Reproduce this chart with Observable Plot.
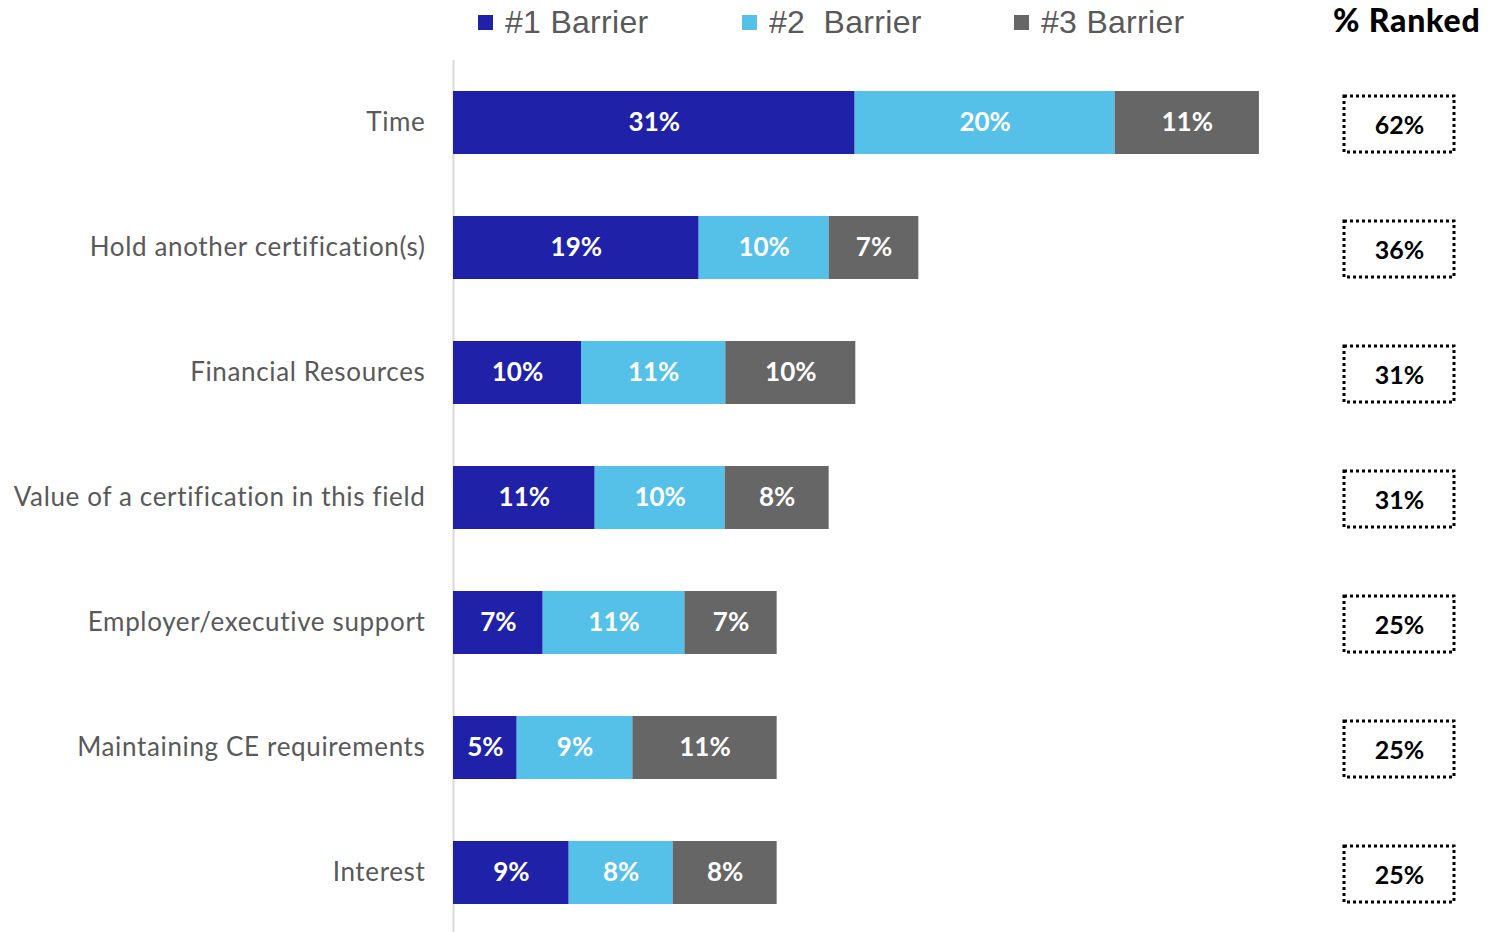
<!DOCTYPE html>
<html>
<head>
<meta charset="utf-8">
<script src="https://cdn.jsdelivr.net/npm/d3@7"></script>
<script src="https://cdn.jsdelivr.net/npm/@observablehq/plot@0.6"></script>
<style>
  body { margin: 0; background: #fff; }
  #wrap { position: relative; width: 1509px; height: 932px; overflow: hidden; }
  #head { position: relative; height: 60px; }
  .leg { position: absolute; top: 4px; display: flex; align-items: center; font-family: "Liberation Sans", sans-serif; font-size: 32px; letter-spacing: 0.3px; color: #595959; white-space: pre; }
  .sw { width: 15px; height: 15px; margin-right: 12px; }
  #rankedHead { position: absolute; left: 1333px; top: 0px; font-family: "Lato", sans-serif; font-weight: 900; font-size: 32px; letter-spacing: 0.8px; color: #000; }
  #row { display: flex; }
  g[aria-label="y-axis tick label"] text { letter-spacing: 0.65px; }
</style>
</head>
<body>
<div id="wrap">
  <div id="head"></div>
  <div id="row"></div>
</div>
<script>
const categories = ["Time", "Hold another certification(s)", "Financial Resources", "Value of a certification in this field", "Employer/executive support", "Maintaining CE requirements", "Interest"];
const series = ["#1 Barrier", "#2  Barrier", "#3 Barrier"];
const colors = ["#1f22a8", "#56c1e8", "#666666"];
const barrier1 = [30.9, 18.9, 9.85, 10.9, 6.9, 4.9, 8.9];
const barrier2 = [20.0, 10.0, 11.1, 10.0, 10.9, 8.9, 8.0];
const barrier3 = [11.1, 6.9, 10.0, 8.0, 7.1, 11.1, 8.0];
const rankedTotal = [62, 36, 31, 31, 25, 25, 25];
const rankedTitle = "% Ranked";

const seriesValues = [barrier1, barrier2, barrier3];
const rows = [];
categories.forEach((c, i) => {
  series.forEach((s, j) => rows.push({cat: c, series: s, value: seriesValues[j][i]}));
});
const ranked = categories.map((c, i) => ({cat: c, value: rankedTotal[i]}));

// header: legend + ranked title
const head = document.getElementById("head");
const legLeft = [478, 742, 1014];
series.forEach((s, j) => {
  const d = document.createElement("div");
  d.className = "leg";
  d.style.left = legLeft[j] + "px";
  d.innerHTML = `<span class="sw" style="background:${colors[j]}"></span><span>${s}</span>`;
  head.appendChild(d);
});
const rh = document.createElement("div");
rh.id = "rankedHead";
rh.textContent = rankedTitle;
head.appendChild(rh);

const yScale = {domain: categories, paddingInner: 0.5, paddingOuter: 0.224, align: 0.515};

const main = Plot.plot({
  width: 1320,
  height: 872,
  marginLeft: 453,
  marginRight: 0,
  marginTop: 0,
  marginBottom: 0,
  style: {fontFamily: "Lato, sans-serif", background: "transparent"},
  x: {domain: [0, 66.7], axis: null},
  y: {...yScale, label: null},
  color: {domain: series, range: colors},
  marks: [
    Plot.ruleX([0], {stroke: "#d9d9d9", strokeWidth: 2}),
    Plot.barX(rows, Plot.stackX({x: "value", y: "cat", fill: "series"})),
    Plot.text(rows, Plot.stackX({x: "value", y: "cat", text: d => Math.round(d.value) + "%", fill: "white", fontWeight: "bold", fontSize: 26})),
    Plot.axisY({tickSize: 0, tickPadding: 28, fontSize: 26, color: "#595959", label: null})
  ]
});

const side = Plot.plot({
  width: 189,
  height: 872,
  marginLeft: 24,
  marginRight: 55,
  marginTop: 0,
  marginBottom: 0,
  style: {fontFamily: "Lato, sans-serif", background: "transparent"},
  x: {domain: ["ranked"], padding: 0, axis: null},
  y: {...yScale, axis: null},
  marks: [
    Plot.cell(ranked, {x: () => "ranked", y: "cat", fill: "none", stroke: "#000", strokeWidth: 3, strokeDasharray: "3 3", insetTop: 5, insetBottom: 2}),
    Plot.text(ranked, {x: () => "ranked", y: "cat", dy: 3, text: d => d.value + "%", fill: "#000", fontWeight: "bold", fontSize: 25})
  ]
});

const row = document.getElementById("row");
row.appendChild(main);
row.appendChild(side);
</script>
</body>
</html>
